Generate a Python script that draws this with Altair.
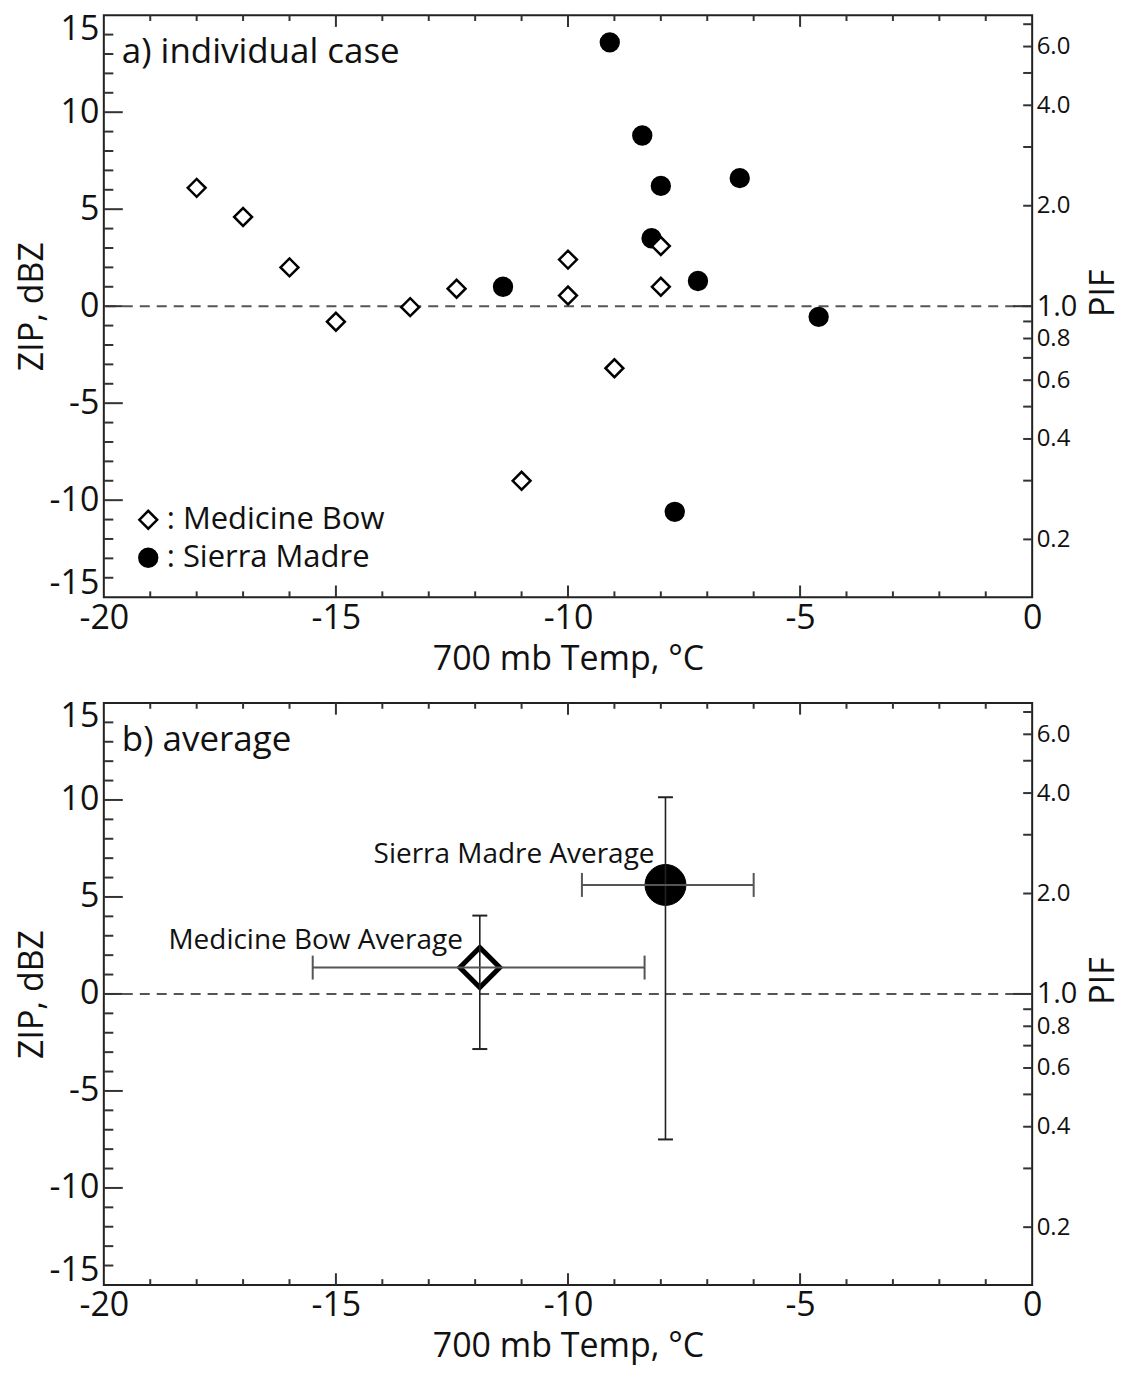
import altair as alt
import numpy as np
import pandas as pd

FONT = "Open Sans"
K = 17.2  # ZIP = K * log10(PIF)
W, H = 930, 583

# ---- panel a: individual cases ----
mb_temp = [-18, -17, -16, -15, -13.4, -12.4, -10, -10, -9, -11, -8, -8]
mb_zip = [6.1, 4.6, 2.0, -0.8, -0.05, 0.9, 2.4, 0.55, -3.2, -9.0, 3.1, 1.0]
sm_temp = [-9.1, -8.4, -8.0, -6.3, -8.2, -11.4, -7.2, -4.6, -7.7]
sm_zip = [13.6, 8.8, 6.2, 6.6, 3.5, 1.0, 1.3, -0.55, -10.6]
sites = ["Medicine Bow", "Sierra Madre"]

# ---- panel b: averages ----
avg_site = ["Medicine Bow", "Sierra Madre"]
avg_temp = [-11.9, -7.9]
avg_temp_lo = [-15.5, -9.7]
avg_temp_hi = [-8.35, -6.0]
avg_zip = [1.36, 5.62]
avg_zip_lo = [-2.84, -7.5]
avg_zip_hi = [4.04, 10.14]
avg_label = ["Medicine Bow Average", "Sierra Madre Average"]

# ---- axes ----
x_labels = [-20, -15, -10, -5, 0]
y_labels = [-15, -10, -5, 0, 5, 10, 15]
x_major = [-15, -10, -5]
x_minor = [v for v in range(-19, 0) if v % 5 != 0]
y_major = [-10, -5, 0, 5, 10]
y_minor = [v for v in range(-14, 15) if v % 5 != 0]
pif_labels = [0.2, 0.4, 0.6, 0.8, 1.0, 2.0, 4.0, 6.0]
pif_ticks = [0.2, 0.3, 0.4, 0.5, 0.6, 0.7, 0.8, 0.9, 2.0, 3.0, 4.0, 5.0, 6.0, 7.0]
pif_unit = [1.0]

TICK = "#333"
TXT = "#111"
HYPHEN = "(datum.value < 0 ? '-' : '') + abs(datum.value)"


def xs():
    return alt.Scale(domain=[-20, 0], nice=False, zero=False)


def ys():
    return alt.Scale(domain=[-15, 15], nice=False, zero=False)


x_axis = alt.Axis(values=x_labels, ticks=False, domain=False, grid=False,
                  labelExpr=HYPHEN, labelFlush=False,
                  labelFontSize=34, labelPadding=4, title="700 mb Temp, °C",
                  titleFontSize=34, titleFontWeight="normal", titlePadding=7)
y_axis = alt.Axis(values=y_labels, ticks=False, domain=False, grid=False,
                  labelExpr=HYPHEN,
                  labelFontSize=34, labelPadding=5, labelFlush=True, labelFlushOffset=3,
                  title="ZIP, dBZ", titleFontSize=34, titleFontWeight="normal",
                  titlePadding=0)


def X(field):
    return alt.X(field, scale=xs(), axis=x_axis)


def Y(field):
    return alt.Y(field, scale=ys(), axis=None)


def tick_layers():
    layers = []
    for vals, ln in ((y_major, 19), (y_minor, 9.5)):
        d = pd.DataFrame({"v": vals})
        layers.append(alt.Chart(d).mark_rule(color=TICK, strokeWidth=2).encode(
            y=Y("v:Q"), x=alt.value(0), x2=alt.value(ln)))
    for vals, ln in ((x_major, 11.7), (x_minor, 5.8)):
        d = pd.DataFrame({"v": vals})
        layers.append(alt.Chart(d).mark_rule(color=TICK, strokeWidth=2).encode(
            x=X("v:Q"), y=alt.value(0), y2=alt.value(ln)))
        layers.append(alt.Chart(d).mark_rule(color=TICK, strokeWidth=2).encode(
            x=X("v:Q"), y=alt.value(H - ln), y2=alt.value(H)))
    return layers


def zero_line():
    return alt.Chart(pd.DataFrame({"z": [0]})).mark_rule(
        strokeDash=[10, 7], color="#555", strokeWidth=2).encode(y=Y("z:Q"))


def pif_layers():
    d = pd.DataFrame({"pif": pif_ticks})
    d["zip"] = K * np.log10(d["pif"])
    d1 = pd.DataFrame({"pif": pif_unit})
    d1["zip"] = K * np.log10(d1["pif"])
    ticks = alt.Chart(d).mark_rule(color=TICK, strokeWidth=2).encode(
        x=alt.value(W - 9), x2=alt.value(W),
        y=alt.Y("zip:Q", scale=ys(), axis=alt.Axis(
            orient="right", values=[float(K * np.log10(v)) for v in pif_labels],
            labelExpr="format(pow(10, datum.value / 17.2), '.1f')",
            ticks=False, domain=False, grid=False, labelPadding=4,
            labelFontSize={"condition": {"test": "abs(datum.value) < 0.001", "value": 29}, "value": 24},
            title="PIF", titleFontSize=34, titleFontWeight="normal",
            titleAngle=270, titleBaseline="top", titlePadding=10, titleY=278)))
    unit = alt.Chart(d1).mark_rule(color=TICK, strokeWidth=2).encode(
        x=alt.value(W - 19), x2=alt.value(W), y=Y("zip:Q"))
    return [ticks, unit]


def panel_label(txt):
    return alt.Chart(pd.DataFrame({"label": [txt]})).mark_text(
        align="left", baseline="middle", fontSize=35, font=FONT, color=TXT).encode(
        x=alt.value(18), y=alt.value(37), text="label:N")


# panel a
pts = pd.DataFrame({
    "site": ["Sierra Madre"] * len(sm_temp) + ["Medicine Bow"] * len(mb_temp),
    "temp": sm_temp + mb_temp,
    "zip": sm_zip + mb_zip,
})
leg = alt.Legend(title=None, orient="none", legendX=29, legendY=490,
                 labelFontSize=31, labelExpr="': ' + datum.label", labelLimit=500,
                 symbolSize=320, symbolStrokeWidth=2.5,
                 rowPadding=6, labelOffset=3, labelFont=FONT)
points_a = alt.Chart(pts).mark_point(size=320, strokeWidth=2.5, opacity=1).encode(
    x=X("temp:Q"),
    y=alt.Y("zip:Q", scale=ys(), axis=y_axis),
    shape=alt.Shape("site:N", scale=alt.Scale(domain=sites, range=["diamond", "circle"]), legend=leg),
    fill=alt.Fill("site:N", scale=alt.Scale(domain=sites, range=["white", "black"]), legend=leg),
    stroke=alt.Stroke("site:N", scale=alt.Scale(domain=sites, range=["black", "black"]), legend=leg),
)
panel_a = alt.layer(
    zero_line(), *tick_layers(), points_a, panel_label("a) individual case"), *pif_layers()
).resolve_scale(y="independent").properties(width=W, height=H)

# panel b
avg = pd.DataFrame({"site": avg_site, "temp": avg_temp, "temp_lo": avg_temp_lo,
                    "temp_hi": avg_temp_hi, "zip": avg_zip, "zip_lo": avg_zip_lo,
                    "zip_hi": avg_zip_hi, "label": avg_label})
base_b = alt.Chart(avg)
mb_b = base_b.transform_filter("datum.site == 'Medicine Bow'")
sm_b = base_b.transform_filter("datum.site == 'Sierra Madre'")
pt_mb = mb_b.mark_point(shape="diamond", size=1600, strokeWidth=5, stroke="black",
                        fill="white", filled=True, opacity=1).encode(
    x=X("temp:Q"), y=alt.Y("zip:Q", scale=ys(), axis=y_axis))
pt_sm = sm_b.mark_point(shape="circle", size=1681, strokeWidth=1, stroke="black",
                        fill="black", filled=True, opacity=1).encode(
    x=X("temp:Q"), y=Y("zip:Q"))
vbar = base_b.mark_rule(color="#222", strokeWidth=1.6).encode(
    x=X("temp:Q"), y=Y("zip_lo:Q"), y2="zip_hi:Q")
hbar = base_b.mark_rule(color="#555", strokeWidth=2).encode(
    y=Y("zip:Q"), x=X("temp_lo:Q"), x2="temp_hi:Q")
vcap = base_b.transform_fold(["zip_lo", "zip_hi"], as_=["k", "v"]).mark_tick(
    orient="horizontal", size=15, thickness=2, color="#222", opacity=1).encode(
    x=X("temp:Q"), y=Y("v:Q"))
hcap = base_b.transform_fold(["temp_lo", "temp_hi"], as_=["k", "v"]).mark_tick(
    orient="vertical", size=24, thickness=2, color="#555", opacity=1).encode(
    x=X("v:Q"), y=Y("zip:Q"))
ann_mb = mb_b.mark_text(
    align="right", baseline="middle", dx=-17, dy=-27, fontSize=28, font=FONT, color=TXT).encode(
    x=X("temp:Q"), y=Y("zip:Q"), text="label:N")
ann_sm = sm_b.mark_text(
    align="right", baseline="middle", dx=-11, dy=-30, fontSize=28, font=FONT, color=TXT).encode(
    x=X("temp:Q"), y=Y("zip:Q"), text="label:N")
panel_b = alt.layer(
    zero_line(), *tick_layers(), pt_mb, pt_sm, vbar, hbar, vcap, hcap,
    ann_mb, ann_sm, panel_label("b) average"), *pif_layers()
).resolve_scale(y="independent").properties(width=W, height=H)

chart = alt.vconcat(panel_a, panel_b, spacing=22).properties(
    padding={"left": 6, "top": 2, "right": 4, "bottom": 0}
).configure_view(stroke="#222", strokeWidth=2).configure_axis(
    labelFont=FONT, titleFont=FONT, labelColor=TXT, titleColor=TXT
).configure_legend(labelFont=FONT, labelColor=TXT)

chart.save("out.html", embed_options={"renderer": "svg", "actions": False})
